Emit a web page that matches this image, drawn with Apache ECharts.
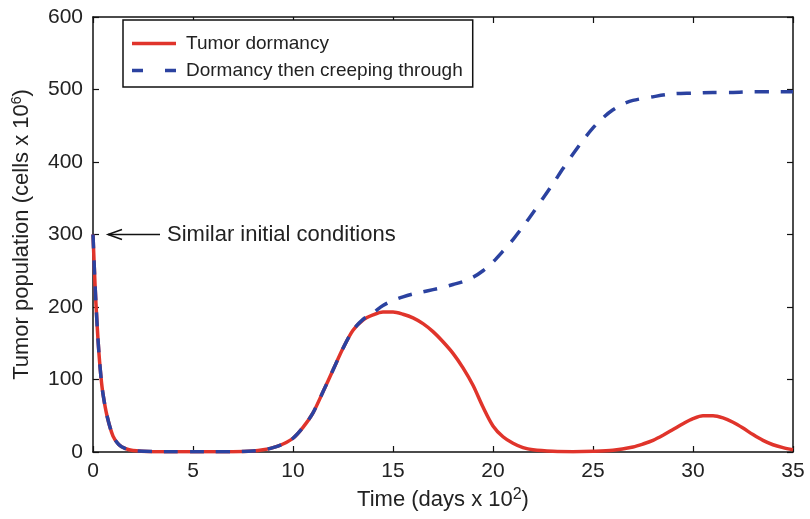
<!DOCTYPE html>
<html>
<head>
<meta charset="utf-8">
<script src="https://cdn.jsdelivr.net/npm/echarts@6/dist/echarts.min.js"></script>
<style>
  html, body { margin: 0; padding: 0; background: #fff; }
  #chart { width: 810px; height: 519px; }
</style>
</head>
<body>
<div id="chart"></div>
<script>
// Time in units of 100 days
const dormancyTime = [0, 0.1, 0.2, 0.3, 0.4, 0.5, 0.7, 1.0, 1.3, 1.6, 2, 3, 4, 5, 6, 7, 8, 8.5, 9, 9.5,
  10, 10.5, 11, 11.5, 12, 12.5, 13, 13.5, 14, 14.5, 15, 15.5, 16, 16.5, 17, 17.5, 18, 18.5, 19, 19.5,
  20, 20.5, 21, 21.5, 22, 23, 24, 25, 26, 27, 27.5, 28, 28.5, 29, 29.5, 30, 30.5, 31, 31.5, 32,
  32.5, 33, 33.5, 34, 34.5, 35];
// Tumor population, cells x 10^6
const dormancyCells = [300, 232, 178, 135, 103, 80, 50, 22, 10, 5, 2, 0.5, 0.3, 0.3, 0.3, 0.5, 1.5, 3, 6, 11,
  19, 34, 54, 83, 113, 143, 168, 182, 189, 193, 193, 190, 185, 177, 166, 152, 136, 116, 92, 62,
  36, 21, 12, 6, 3, 1, 0.5, 1, 2.5, 7, 11, 16, 23, 31, 39, 46, 50, 50, 47, 41,
  33, 24, 16, 10, 6, 3];

const creepingTime = [0, 0.1, 0.2, 0.3, 0.4, 0.5, 0.7, 1.0, 1.3, 1.6, 2, 3, 4, 5, 6, 7, 8, 8.5, 9, 9.5,
  10, 10.5, 11, 11.5, 12, 12.5, 13, 13.5, 14, 14.5, 15, 15.5, 16, 16.5, 17, 17.5, 18, 18.5, 19, 19.5,
  20, 20.5, 21, 21.5, 22, 22.5, 23, 23.5, 24, 24.5, 25, 25.5, 26, 26.5, 27, 28, 29, 30, 31, 32, 33, 34, 35];
const creepingCells = [300, 232, 178, 135, 103, 80, 50, 22, 10, 5, 2, 0.5, 0.3, 0.3, 0.3, 0.5, 1.5, 3, 6, 11,
  19, 34, 54, 83, 113, 143, 168, 183, 192, 202, 209, 214, 218, 221, 224, 227, 231, 235, 241, 250,
  262, 277, 293, 311, 330, 350, 370, 391, 411, 430, 447, 461, 472, 480, 485, 490, 494, 495, 496, 496, 497, 497, 497];

const seriesNames = ['Tumor dormancy', 'Dormancy then creeping through'];
const xTicks = { min: 0, max: 35, interval: 5 };
const yTicks = { min: 0, max: 600, interval: 100 };

// Annotation: arrow pointing at the shared starting value
const noteText = 'Similar initial conditions';
const noteValue = 300;
const arrowTipT = 0.75;
const arrowTailT = 3.35;
const noteTextT = 3.7;

const pairs = (xs, ys) => xs.map((x, i) => [x, ys[i]]);

const RED = '#e0342b';
const BLUE = '#2b42a0';
const FONT = 'Liberation Sans, Arial, Helvetica, sans-serif';

const chart = echarts.init(document.getElementById('chart'), null, { renderer: 'canvas' });

const axisLine = { show: true, onZero: false, lineStyle: { color: '#111', width: 1.5 } };
const axisTick = { show: true, inside: true, length: 6, lineStyle: { color: '#111', width: 1.2 } };
const labelFont = { fontFamily: FONT, fontSize: 21, color: '#222' };

chart.setOption({
  backgroundColor: '#fff',
  animation: false,
  grid: { left: 93, right: 17, top: 17, bottom: 67 },
  legend: {
    orient: 'vertical',
    left: 123,
    top: 20,
    padding: [10, 10, 3, 9],
    itemWidth: 44,
    itemHeight: 3.5,
    itemGap: 0,
    symbolKeepAspect: false,
    borderColor: '#111',
    borderWidth: 1.5,
    backgroundColor: '#fff',
    textStyle: { fontFamily: FONT, fontSize: 19, color: '#222', lineHeight: 27, padding: [0, 0, 0, 5] },
    data: [
      { name: seriesNames[0], icon: 'path://M0,0h44v3.5h-44z', itemStyle: { color: RED } },
      { name: seriesNames[1], icon: 'path://M0,0h11v3.5h-11z M33,0h11v3.5h-11z', itemStyle: { color: BLUE } }
    ]
  },
  xAxis: [
    {
      type: 'value', position: 'bottom',
      min: xTicks.min, max: xTicks.max, interval: xTicks.interval,
      axisLine, axisTick, splitLine: { show: false },
      axisLabel: Object.assign({ margin: 9 }, labelFont),
      name: 'Time (days x 10{sup|2})',
      nameLocation: 'middle',
      nameGap: 30,
      nameTextStyle: {
        fontFamily: FONT, fontSize: 22, color: '#222',
        rich: { sup: { fontFamily: FONT, fontSize: 16, color: '#222', padding: [0, 0, 11, 0] } }
      }
    },
    {
      type: 'value', position: 'top',
      min: xTicks.min, max: xTicks.max, interval: xTicks.interval,
      axisLine, axisTick, splitLine: { show: false }, axisLabel: { show: false }
    }
  ],
  yAxis: [
    {
      type: 'value', position: 'left',
      min: yTicks.min, max: yTicks.max, interval: yTicks.interval,
      axisLine, axisTick, splitLine: { show: false },
      axisLabel: Object.assign({ margin: 10 }, labelFont),
      name: 'Tumor population (cells x 10{sup|6})',
      nameLocation: 'middle',
      nameGap: 59,
      nameTextStyle: {
        fontFamily: FONT, fontSize: 22, color: '#222',
        rich: { sup: { fontFamily: FONT, fontSize: 14, color: '#222', padding: [0, 0, 10, 0] } }
      }
    },
    {
      type: 'value', position: 'right',
      min: yTicks.min, max: yTicks.max, interval: yTicks.interval,
      axisLine, axisTick, splitLine: { show: false }, axisLabel: { show: false }
    }
  ],
  series: [
    {
      name: seriesNames[0], type: 'line', xAxisIndex: 0, yAxisIndex: 0,
      data: pairs(dormancyTime, dormancyCells),
      smooth: 0.3, symbol: 'none', clip: true, z: 2,
      lineStyle: { color: RED, width: 3.5 },
      itemStyle: { color: RED }
    },
    {
      name: seriesNames[1], type: 'line', xAxisIndex: 0, yAxisIndex: 0,
      data: pairs(creepingTime, creepingCells),
      smooth: 0.3, symbol: 'none', clip: true, z: 3,
      lineStyle: { color: BLUE, width: 3.5, type: [14, 12] },
      itemStyle: { color: BLUE }
    }
  ]
});

// Place the annotation in data space
const tip = chart.convertToPixel({ gridIndex: 0 }, [arrowTipT, noteValue]);
const tail = chart.convertToPixel({ gridIndex: 0 }, [arrowTailT, noteValue]);
const textPos = chart.convertToPixel({ gridIndex: 0 }, [noteTextT, noteValue]);

chart.setOption({
  graphic: [
    {
      type: 'line', z: 10,
      shape: { x1: tail[0], y1: tail[1], x2: tip[0], y2: tip[1] },
      style: { stroke: '#111', lineWidth: 1.5 }
    },
    {
      type: 'polyline', z: 10,
      shape: { points: [[tip[0] + 14, tip[1] - 5], [tip[0], tip[1]], [tip[0] + 14, tip[1] + 5]] },
      style: { stroke: '#111', lineWidth: 1.5, fill: null }
    },
    {
      type: 'text', z: 10,
      x: textPos[0], y: textPos[1],
      style: {
        text: noteText,
        fontFamily: FONT, fontSize: 22, fill: '#222',
        verticalAlign: 'middle', align: 'left'
      }
    }
  ]
});
</script>
</body>
</html>
